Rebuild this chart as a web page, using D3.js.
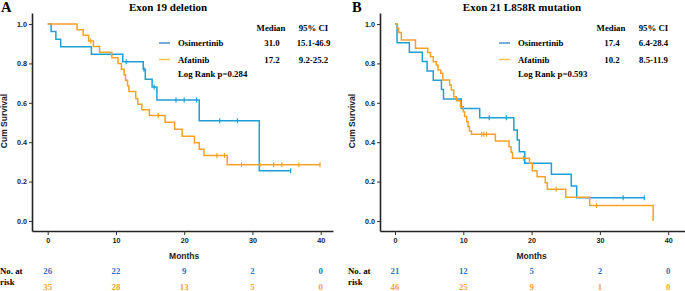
<!DOCTYPE html>
<html>
<head>
<meta charset="utf-8">
<script src="https://cdn.jsdelivr.net/npm/d3@7"></script>
<style>
  body { margin: 0; background: #fff; }
  svg { display: block; }
  .serif { font-family: "Liberation Serif", "Times New Roman", serif; font-weight: bold; }
  .sans { font-family: "Liberation Sans", Arial, sans-serif; font-weight: bold; }
</style>
</head>
<body>
<div id="chart"></div>
<script>
// ---- data ----
var monthTicks = [0, 10, 20, 30, 40];
var survTicks = [0, 0.2, 0.4, 0.6, 0.8, 1.0];
var seriesNames = ["Osimertinib", "Afatinib"];

// Exon 19 deletion
var ex19OsiTimes = [0.5, 1.2, 1.9, 6.4, 11.0, 14.0, 14.3, 15.3, 16.0, 22.2, 31.0];
var ex19OsiSurv = [0.962, 0.923, 0.885, 0.846, 0.808, 0.77, 0.72, 0.68, 0.614, 0.509, 0.255];
var ex19OsiCensor = [11.5, 14.1, 15.6, 18.8, 20.0, 21.8, 25.2, 27.8, 35.6];
var ex19AfaTimes = [4.3, 5.2, 6.0, 6.7, 7.6, 9.4, 10.3, 10.8, 11.2, 11.4, 11.7, 11.9, 12.9, 13.2, 13.8, 14.9, 17.2, 18.6, 19.7, 21.5, 22.2, 22.9, 26.3];
var ex19AfaSurv = [0.971, 0.943, 0.914, 0.886, 0.857, 0.829, 0.8, 0.771, 0.743, 0.714, 0.686, 0.657, 0.622, 0.593, 0.565, 0.536, 0.501, 0.466, 0.43, 0.397, 0.364, 0.333, 0.286];
var ex19AfaCensor = [6.3, 16.2, 24.8, 25.9, 28.4, 31.1, 33.1, 34.3, 36.8, 39.9];
var ex19Median = ["31.0", "17.2"];
var ex19CI = ["15.1-46.9", "9.2-25.2"];
var ex19Risk = [[26, 22, 9, 2, 0], [35, 28, 13, 5, 0]];

// Exon 21 L858R mutation
var ex21OsiTimes = [0.3, 2.1, 4.0, 4.7, 5.6, 6.8, 7.1, 9.7, 12.4, 17.4, 17.9, 18.2, 19.0, 22.9, 25.8, 26.6];
var ex21OsiSurv = [0.905, 0.857, 0.81, 0.762, 0.714, 0.667, 0.619, 0.571, 0.524, 0.462, 0.411, 0.352, 0.293, 0.237, 0.178, 0.118];
var ex21OsiCensor = [13.8, 16.3, 33.4, 36.5];
var ex21AfaTimes = [0.34, 0.54, 0.93, 3.0, 4.8, 5.2, 5.6, 6.05, 6.3, 6.7, 7.0, 8.0, 8.25, 8.6, 9.0, 9.6, 10.0, 10.2, 10.5, 10.7, 10.9, 11.2, 14.7, 16.7, 17.0, 17.2, 19.7, 20.1, 20.8, 22.0, 22.3, 25.0, 28.5, 37.8];
var ex21AfaSurv = [0.978, 0.957, 0.919, 0.877, 0.856, 0.834, 0.809, 0.792, 0.767, 0.75, 0.716, 0.69, 0.665, 0.631, 0.61, 0.58, 0.555, 0.53, 0.504, 0.479, 0.457, 0.44, 0.406, 0.377, 0.349, 0.318, 0.293, 0.255, 0.225, 0.194, 0.161, 0.12, 0.078, 0];
var ex21AfaCensor = [12.7, 13.0, 13.4, 18.8, 23.6, 29.5];
var ex21Median = ["17.4", "10.2"];
var ex21CI = ["6.4-28.4", "8.5-11.9"];
var ex21Risk = [[21, 12, 5, 2, 0], [46, 25, 9, 1, 0]];

var curveColors = ["#1e9fd6", "#f7a128"];
var legendColors = ["#4a8fd6", "#f8c24c"];
var riskColors = ["#2e72c6", "#f5a232"];

var width = 685, height = 291;

var svg = d3.select("#chart").append("svg")
    .attr("width", width)
    .attr("height", height);

svg.append("rect").attr("width", width).attr("height", height).attr("fill", "#fff");

function kmPoints(times, surv, censor) {
    var pts = [[0, 1]];
    times.forEach((t, i) => pts.push([t, surv[i]]));
    var last = d3.max(censor.concat(times));
    pts.push([last, surv[surv.length - 1]]);
    return pts;
}

function survAt(times, surv, t) {
    var s = 1;
    times.forEach((tt, i) => { if (tt <= t) s = surv[i]; });
    return s;
}

function drawPanel(p) {
    var g = svg.append("g");

    var x = d3.scaleLinear().domain([p.xMin, p.xMax]).range([p.left, p.right]);
    var y = d3.scaleLinear().domain([-0.051, 1.056]).range([231, 13]);

    // axes
    var xAxis = d3.axisBottom(x).tickValues(monthTicks).tickSize(4).tickSizeOuter(0).tickPadding(3);
    var yAxis = d3.axisLeft(y).tickValues(survTicks).tickSize(3).tickSizeOuter(0).tickPadding(2)
        .tickFormat(d3.format(".1f"));

    var gx = g.append("g").attr("transform", "translate(0,231)").call(xAxis);
    var gy = g.append("g").attr("transform", `translate(${p.left},0)`).call(yAxis);
    [gx, gy].forEach(a => {
        a.select(".domain").attr("stroke", "#222").attr("stroke-width", 1.6);
        a.selectAll(".tick line").attr("stroke", "#333").attr("stroke-width", 1);
        a.selectAll(".tick text").attr("class", "sans").attr("font-size", 7.2).attr("fill", "#222");
    });

    // curves
    p.series.forEach((s, i) => {
        var pts = kmPoints(s.times, s.surv, s.censor);
        g.append("path")
            .datum(pts)
            .attr("fill", "none")
            .attr("stroke", curveColors[i])
            .attr("stroke-width", 1.5)
            .attr("d", d3.line().x(d => x(d[0])).y(d => y(d[1])).curve(d3.curveStepAfter));
        g.selectAll(".cens" + i)
            .data(s.censor)
            .enter().append("line")
            .attr("stroke", curveColors[i])
            .attr("stroke-width", 1.2)
            .attr("x1", d => x(d)).attr("x2", d => x(d))
            .attr("y1", d => y(survAt(s.times, s.surv, d)) - 2.5)
            .attr("y2", d => y(survAt(s.times, s.surv, d)) + 2.5);
    });

    // panel letter and title
    g.append("text").attr("class", "serif").attr("x", p.letterX).attr("y", 12)
        .attr("font-size", 14.5).text(p.letter);
    g.append("text").attr("class", "serif").attr("x", p.titleX).attr("y", 11)
        .attr("text-anchor", "middle").attr("font-size", 11).text(p.title);

    // axis titles
    g.append("text").attr("class", "sans")
        .attr("transform", `translate(${p.left - 25},121) rotate(-90)`)
        .attr("text-anchor", "middle").attr("font-size", 8.5).attr("fill", "#222")
        .text("Cum Survival");
    g.append("text").attr("class", "sans").attr("x", x(20)).attr("y", 259)
        .attr("text-anchor", "middle").attr("font-size", 8.5).attr("fill", "#222")
        .text("Months");

    // legend
    var lx = p.legendX;
    g.append("text").attr("class", "serif").attr("x", lx + 112).attr("y", 31)
        .attr("text-anchor", "middle").attr("font-size", 8.8).text("Median");
    g.append("text").attr("class", "serif").attr("x", lx + 154.5).attr("y", 31)
        .attr("text-anchor", "middle").attr("font-size", 8.8).text("95% CI");
    seriesNames.forEach((name, i) => {
        var ly = 43 + i * 16.5;
        g.append("line").attr("x1", lx).attr("x2", lx + 11).attr("y1", ly).attr("y2", ly)
            .attr("stroke", legendColors[i]).attr("stroke-width", 1.5);
        g.append("text").attr("class", "serif").attr("x", lx + 19).attr("y", ly + 3)
            .attr("font-size", 8.8).text(name);
        g.append("text").attr("class", "serif").attr("x", lx + 113).attr("y", ly + 3)
            .attr("text-anchor", "middle").attr("font-size", 8.8).text(p.median[i]);
        g.append("text").attr("class", "serif").attr("x", lx + 154.5).attr("y", ly + 3)
            .attr("text-anchor", "middle").attr("font-size", 8.8).text(p.ci[i]);
    });
    g.append("text").attr("class", "serif").attr("x", lx + 19).attr("y", 77)
        .attr("font-size", 8.8).text(p.logRank);

    // numbers at risk
    g.append("text").attr("class", "serif").attr("x", p.riskLabelX).attr("y", 274)
        .attr("font-size", 8.8).text("No. at");
    g.append("text").attr("class", "serif").attr("x", p.riskLabelX).attr("y", 285)
        .attr("font-size", 8.8).text("risk");
    p.risk.forEach((row, i) => {
        g.selectAll(".risk" + i)
            .data(row)
            .enter().append("text")
            .attr("class", "serif")
            .attr("x", (d, j) => x(monthTicks[j]))
            .attr("y", 274 + i * 15.5)
            .attr("text-anchor", "middle")
            .attr("font-size", 8.8)
            .attr("fill", riskColors[i])
            .text(d => d);
    });
}

drawPanel({
    letter: "A", letterX: 1, title: "Exon 19 deletion", titleX: 168,
    left: 32, right: 333, xMin: (32 - 47.7) / 6.825, xMax: (333 - 47.7) / 6.825,
    legendX: 159, riskLabelX: 0,
    series: [
        {times: ex19OsiTimes, surv: ex19OsiSurv, censor: ex19OsiCensor},
        {times: ex19AfaTimes, surv: ex19AfaSurv, censor: ex19AfaCensor}
    ],
    median: ex19Median, ci: ex19CI, logRank: "Log Rank p=0.284", risk: ex19Risk
});

drawPanel({
    letter: "B", letterX: 352, title: "Exon 21 L858R mutation", titleX: 522,
    left: 380, right: 685, xMin: (380 - 395) / 6.83, xMax: (685 - 395) / 6.83,
    legendX: 499, riskLabelX: 348,
    series: [
        {times: ex21OsiTimes, surv: ex21OsiSurv, censor: ex21OsiCensor},
        {times: ex21AfaTimes, surv: ex21AfaSurv, censor: ex21AfaCensor}
    ],
    median: ex21Median, ci: ex21CI, logRank: "Log Rank p=0.593", risk: ex21Risk
});
</script>
</body>
</html>
